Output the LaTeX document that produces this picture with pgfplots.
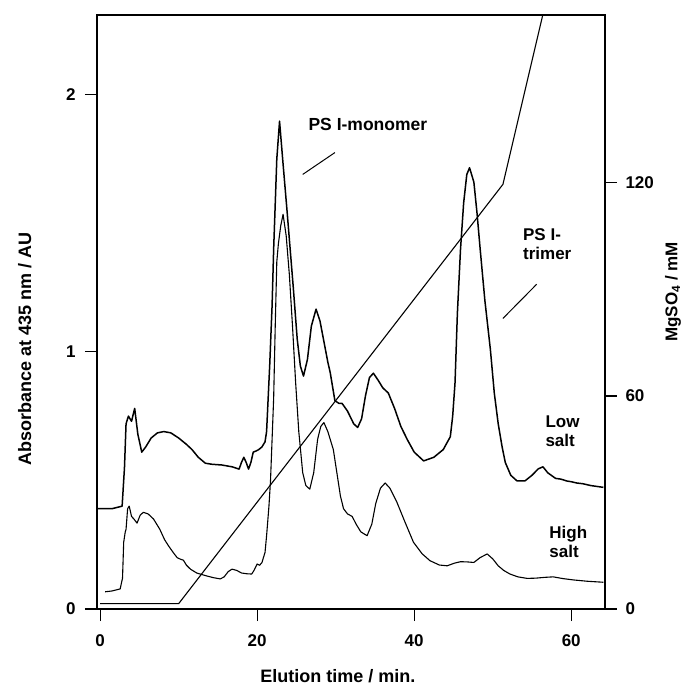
\documentclass[border=0pt]{standalone}
\usepackage{fontspec}
\setmainfont{Liberation Sans}
\usepackage{pgfplots}
\pgfplotsset{compat=1.18}
\begin{document}
\begin{tikzpicture}
\pgfplotsset{
  every axis/.append style={
    scale only axis, width=508pt, height=594pt,
    xmin=-0.4, xmax=64.3,
    tick align=outside, major tick length=12pt,
    /pgf/number format/assume math mode=true,
    tick label style={font=\fontsize{17}{19}\selectfont\bfseries},
    label style={font=\fontsize{18}{20}\selectfont\bfseries},
    axis line style={line width=1.1pt},
    every tick/.style={line width=1.1pt, black},
  }
}
\begin{axis}[
  at={(0,0)}, anchor=south west,
  ymin=0, ymax=2.31,
  xtick={0,20,40,60}, ytick={0,1,2},
  xtick pos=bottom, ytick pos=left,
  yticklabel style={xshift=-6pt},
  xticklabel style={yshift=-10pt},
  xlabel={Elution time / min.},
  ylabel={Absorbance at 435 nm / AU},
  xlabel style={at={(axis description cs:0.474,-0.113)}, anchor=center},
  ylabel style={at={(axis description cs:-0.142,0.438)}, anchor=center},
  clip=true,
]
% Low salt
\addplot[black, line width=1.5pt, line join=round] coordinates {
(-0.4,0.39) (1.5,0.39) (2.8,0.40) (3.1,0.55) (3.3,0.72) (3.6,0.75) (4.0,0.73) (4.4,0.78) (4.8,0.68) (5.3,0.61) (5.8,0.63) (6.5,0.665) (7.3,0.685) (8.1,0.69) (9.0,0.685) (10.0,0.665) (11.0,0.64) (11.7,0.62) (12.5,0.59) (13.4,0.567) (14.2,0.563) (15.5,0.56) (16.8,0.553) (17.7,0.544) (18.0,0.57) (18.3,0.59) (18.6,0.57) (18.9,0.544) (19.2,0.57) (19.5,0.61) (19.9,0.615) (20.2,0.62) (20.6,0.63) (21.0,0.65) (21.2,0.69) (21.6,0.95) (21.9,1.18) (22.1,1.40) (22.5,1.75) (22.85,1.897) (23.3,1.73) (23.8,1.55) (24.2,1.40) (24.6,1.25) (25.1,1.05) (25.5,0.945) (25.9,0.906) (26.4,0.97) (26.9,1.10) (27.5,1.166) (28.0,1.12) (28.5,1.04) (29.0,0.96) (29.3,0.92) (29.9,0.81) (30.4,0.80) (30.8,0.80) (31.5,0.77) (32.3,0.72) (32.8,0.706) (33.3,0.74) (33.8,0.83) (34.3,0.90) (34.8,0.917) (35.4,0.89) (36.0,0.86) (36.7,0.84) (37.5,0.78) (38.3,0.71) (39.1,0.66) (40.0,0.61) (41.2,0.576) (42.5,0.59) (43.7,0.62) (44.6,0.67) (44.9,0.75) (45.2,0.88) (45.5,1.15) (45.9,1.40) (46.3,1.58) (46.7,1.69) (47.05,1.716) (47.6,1.66) (48.0,1.54) (48.4,1.40) (49.0,1.20) (49.7,1.01) (50.2,0.84) (50.7,0.72) (51.2,0.63) (51.6,0.57) (52.3,0.52) (53.1,0.498) (54.1,0.498) (55.0,0.52) (55.8,0.545) (56.4,0.553) (57.0,0.53) (58.0,0.508) (58.7,0.505) (59.4,0.498) (60.0,0.495) (60.7,0.49) (61.5,0.487) (62.5,0.48) (64.1,0.473)
};
% High salt
\addplot[black, line width=1.1pt, line join=round] coordinates {
(0.64,0.067) (1.5,0.07) (2.55,0.078) (2.85,0.12) (3.0,0.26) (3.2,0.30) (3.3,0.31) (3.5,0.39) (3.7,0.40) (4.0,0.36) (4.3,0.35) (4.7,0.334) (5.1,0.365) (5.5,0.376) (6.1,0.37) (6.8,0.35) (7.6,0.31) (8.2,0.27) (8.7,0.246) (9.3,0.22) (9.8,0.20) (10.2,0.194) (10.6,0.19) (11.0,0.17) (11.5,0.155) (12.3,0.14) (13.4,0.13) (14.4,0.122) (15.3,0.117) (15.8,0.125) (16.3,0.145) (16.8,0.155) (17.4,0.15) (18.0,0.14) (18.7,0.137) (19.3,0.136) (19.6,0.15) (20.0,0.175) (20.3,0.17) (20.6,0.18) (21.0,0.22) (21.2,0.285) (21.5,0.40) (21.7,0.50) (22.1,0.82) (22.3,1.10) (22.5,1.35) (22.7,1.42) (23.0,1.49) (23.3,1.535) (23.7,1.45) (24.1,1.30) (24.5,1.10) (24.9,0.88) (25.3,0.69) (25.8,0.53) (26.2,0.48) (26.7,0.466) (27.2,0.53) (27.7,0.66) (28.1,0.71) (28.5,0.725) (29.0,0.69) (29.4,0.65) (29.7,0.62) (30.2,0.52) (30.6,0.44) (31.0,0.39) (31.5,0.37) (32.1,0.36) (32.6,0.33) (33.2,0.30) (34.0,0.285) (34.6,0.33) (35.1,0.41) (35.7,0.47) (36.3,0.49) (36.9,0.47) (37.8,0.415) (38.8,0.34) (39.9,0.26) (41.0,0.215) (42.0,0.188) (43.2,0.171) (44.2,0.168) (45.1,0.178) (45.9,0.184) (46.8,0.183) (47.6,0.181) (48.4,0.20) (49.3,0.214) (50.0,0.195) (50.7,0.168) (51.4,0.15) (52.2,0.136) (53.2,0.125) (54.4,0.119) (55.5,0.12) (56.6,0.123) (57.7,0.125) (59.0,0.118) (60.3,0.113) (62.0,0.108) (64.1,0.104)
};
% annotations
\node[font=\fontsize{17.5}{19}\selectfont\bfseries, inner sep=0pt] at (axis cs:34.1,1.884) {PS I-monomer};
\draw[line width=1pt] (axis cs:29.9,1.775) -- (axis cs:25.8,1.69);
\node[font=\fontsize{17}{19}\selectfont\bfseries, inner sep=0pt, anchor=west, align=left] at (axis cs:53.85,1.418) {PS I-\\trimer};
\draw[line width=1pt] (axis cs:55.6,1.263) -- (axis cs:51.3,1.13);
\node[font=\fontsize{17}{19}\selectfont\bfseries, inner sep=0pt, anchor=west, align=left] at (axis cs:56.7,0.69) {Low\\salt};
\node[font=\fontsize{17}{19}\selectfont\bfseries, inner sep=0pt, anchor=west, align=left] at (axis cs:57.2,0.26) {High\\salt};
\end{axis}
\begin{axis}[
  at={(0,0)}, anchor=south west,
  ymin=0, ymax=167.3,
  axis y line*=right, axis x line=none,
  ytick={0,60,120},
  yticklabel style={xshift=5pt},
  ylabel={MgSO\textsubscript{4} / mM},
  ylabel style={at={(axis description cs:1.134,0.534)}, anchor=center, font=\fontsize{17}{19}\selectfont\bfseries},
  clip=true,
]
\addplot[black, line width=1.1pt, line join=round] coordinates {
(0,1.5) (10,1.5) (51.3,119.6) (60,201.4)
};
\end{axis}
\pgfresetboundingbox
\path (-97pt,-80pt) rectangle (588pt,609pt);
\end{tikzpicture}
\end{document}
